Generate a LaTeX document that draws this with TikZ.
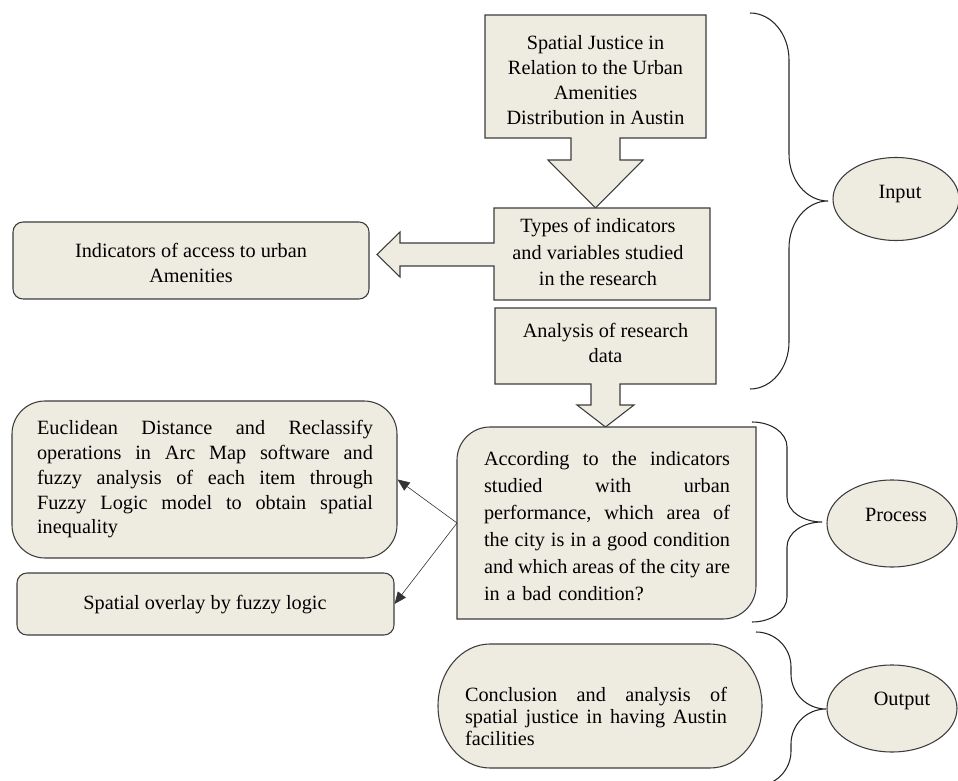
\documentclass[tikz,border=0pt]{standalone}
\usepackage{fontspec}
\setmainfont{Liberation Serif}
\usetikzlibrary{arrows.meta,shapes.geometric}
\definecolor{boxfill}{HTML}{EEECE1}
\definecolor{boxline}{HTML}{3C3C3C}
\newcommand{\fnt}[1]{\fontsize{15.2}{#1}\selectfont}
\newcommand{\jl}[2]{\leavevmode\hbox to #1{#2}}
\begin{document}
\begin{tikzpicture}[x=0.75pt,y=-0.75pt,
  shapebox/.style={draw=boxline, fill=boxfill, line width=0.8pt, line join=miter},
  bracestyle/.style={draw=black!85, line width=0.8pt},
  txt/.style={inner sep=0pt, align=center, text=black},
  jtxt/.style={inner sep=0pt, align=left, text=black},
  ellbox/.style={shapebox, ellipse, inner sep=0pt},
  link/.style={draw=black!80, line width=0.45pt, -{Triangle[length=9pt,width=7.5pt]}}]
\useasboundingbox (0,0) rectangle (958,781);
\clip (0,0) rectangle (958,781);

% top callout box with down arrow
\path[shapebox] (485,15) -- (706,15) -- (706,138) -- (620,138) -- (620,160) -- (643,160)
  -- (595.5,208) -- (548,160) -- (571,160) -- (571,138) -- (485,138) -- cycle;
\node[txt, font=\fnt{18.75pt}] (spatial) at (595.5,80.5)
  {Spatial Justice in\\Relation to the Urban\\Amenities\\Distribution in Austin};

% types box with left arrow
\path[shapebox] (494,208) -- (710,208) -- (710,300) -- (494,300) -- (494,266) -- (400,266)
  -- (400,277) -- (377,254.5) -- (400,232) -- (400,243) -- (494,243) -- cycle;
\node[txt, font=\fnt{19.9pt}] (types) at (598,252)
  {Types of indicators\\and variables studied\\in the research};

% analysis box with down arrow
\path[shapebox] (495,308) -- (716,308) -- (716,384) -- (620,384) -- (620,405) -- (634,405)
  -- (605.5,427) -- (577,405) -- (591,405) -- (591,384) -- (495,384) -- cycle;
\node[txt, font=\fnt{18.75pt}] (analysis) at (605.5,342.5) {Analysis of research\\data};

% indicators box
\node[shapebox, rounded corners=7.5pt, minimum width=267pt, minimum height=57.75pt, inner sep=0pt]
  (indbox) at (191,260.5) {};
\node[txt, font=\fnt{18.75pt}] (indtxt) at (191,262.5) {Indicators of access to urban\\Amenities};

% euclidean box
\node[shapebox, rounded corners=24.75pt, minimum width=288.75pt, minimum height=117.75pt, inner sep=0pt]
  (euclid) at (204.5,479.5) {};
\node[jtxt, text width=252pt, font=\fnt{18.56pt}] (euclidtxt) at (205,479.5)
  {\jl{252pt}{Euclidean\hfill Distance\hfill and\hfill Reclassify}\\
   \jl{252pt}{operations\hfill in\hfill Arc\hfill Map\hfill software\hfill and}\\
   \jl{252pt}{fuzzy\hfill analysis\hfill of\hfill each\hfill item\hfill through}\\
   \jl{252pt}{Fuzzy\hfill Logic\hfill model\hfill to\hfill obtain\hfill spatial}\\
   inequality};

% spatial overlay box
\node[shapebox, rounded corners=7.5pt, minimum width=282.75pt, minimum height=46.5pt, inner sep=0pt]
  (overlay) at (205.5,604) {};
\node[txt, font=\fnt{18.75pt}] (overlaytxt) at (205,605) {Spatial overlay by fuzzy logic};

% according box (round diagonal corners)
\path[shapebox] (457,460) .. controls (457,441.8) and (471.8,427) .. (490,427) -- (756,427)
  -- (756,586) .. controls (756,604.2) and (741.2,619) .. (723,619) -- (457,619) -- cycle;
\node[jtxt, text width=184.5pt, font=\fnt{20.25pt}] (acctxt) at (607,526.5)
  {\jl{184.5pt}{According\hfill to\hfill the\hfill indicators}\\
   \jl{184.5pt}{studied\hfill with\hfill urban}\\
   \jl{184.5pt}{performance,\hfill which\hfill area\hfill of}\\
   \jl{184.5pt}{the\hfill city\hfill is\hfill in\hfill a\hfill good\hfill condition}\\
   \jl{184.5pt}{and\hfill which\hfill areas\hfill of\hfill the\hfill city\hfill are}\\
   in a bad condition?};
\coordinate (acc) at (457,523);

% conclusion terminator
\path[shapebox] (490,644) -- (710,644) .. controls (738.7,644) and (762,671.8) .. (762,706)
  .. controls (762,740.2) and (738.7,768) .. (710,768) -- (490,768)
  .. controls (461.3,768) and (438,740.2) .. (438,706)
  .. controls (438,671.8) and (461.3,644) .. (490,644) -- cycle;
\node[jtxt, text width=196.5pt, font=\fnt{16.5pt}] (conctxt) at (596,716)
  {\jl{196.5pt}{Conclusion\hfill and\hfill analysis\hfill of}\\
   \jl{196.5pt}{spatial\hfill justice\hfill in\hfill having\hfill Austin}\\
   facilities};

% connectors
\draw[link] (acc) -- (euclid.east);
\draw[link] (acc) -- (overlay.east);

% braces
\path[bracestyle] (750,13) .. controls (771.5,13) and (789,34) .. (789,60) -- (789,154)
  .. controls (789,180) and (806.5,201) .. (828,201)
  .. controls (806.5,201) and (789,222) .. (789,248) -- (789,342)
  .. controls (789,368) and (771.5,389) .. (750,389);
\path[bracestyle] (752,422) .. controls (771.3,422) and (787,433) .. (787,447) -- (787,497)
  .. controls (787,511) and (802.7,522) .. (822,522)
  .. controls (802.7,522) and (787,533) .. (787,547) -- (787,597)
  .. controls (787,611) and (771.3,622) .. (752,622);
\path[bracestyle] (756,632) .. controls (775.3,632) and (791,647.7) .. (791,667) -- (791,674)
  .. controls (791,693.3) and (806.7,709) .. (826,709)
  .. controls (806.7,709) and (791,724.7) .. (791,744) -- (791,751)
  .. controls (791,770.3) and (775.3,786) .. (756,786);

% ellipses
\node[ellbox, minimum width=94.5pt, minimum height=62.25pt] (inputE) at (896,199) {};
\node[txt, font=\fnt{18.75pt}] (inputT) at (900,194) {Input};
\node[ellbox, minimum width=97.5pt, minimum height=65.25pt] (processE) at (892,523.5) {};
\node[txt, font=\fnt{18.75pt}] (processT) at (896,515) {Process};
\node[ellbox, minimum width=97.5pt, minimum height=65.25pt] (outputE) at (892,708.5) {};
\node[txt, font=\fnt{18.75pt}] (outputT) at (902,701) {Output};
\end{tikzpicture}
\end{document}
